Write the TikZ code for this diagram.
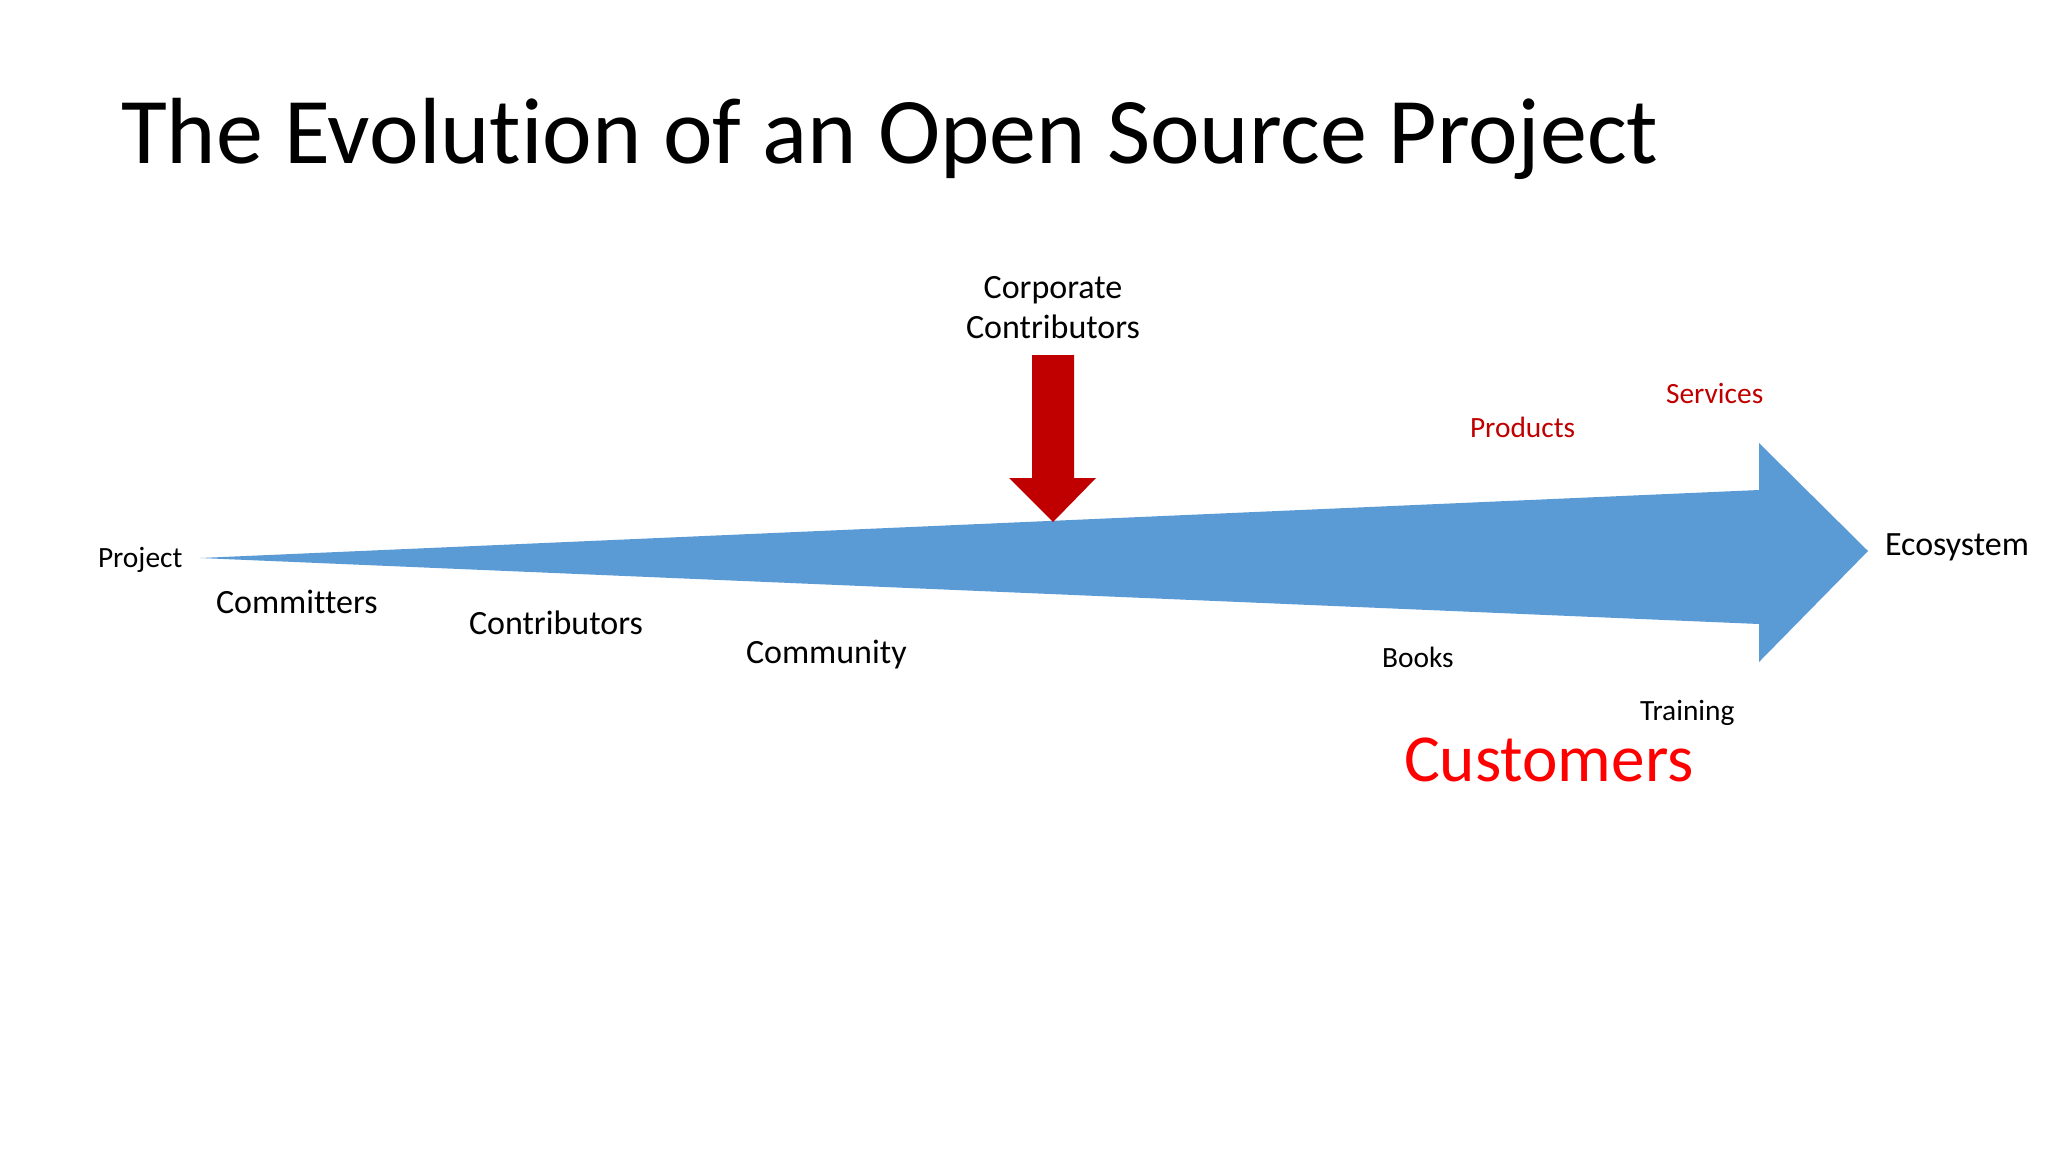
\documentclass[tikz,border=0pt]{standalone}
\usepackage{fontspec}
\setmainfont[Ligatures=NoCommon]{Carlito}
\usepackage{xcolor}
\usetikzlibrary{positioning,calc}
\definecolor{flowblue}{HTML}{5B9BD5}
\definecolor{corpred}{HTML}{C00000}
\definecolor{custred}{HTML}{FF0000}

\begin{document}
\begin{tikzpicture}[x=0.5pt, y=-0.5pt, inner sep=0pt, outer sep=0pt,
    big/.style={anchor=base west, font=\fontsize{17pt}{20pt}\selectfont},
    small/.style={anchor=base west, font=\fontsize{14.7pt}{17pt}\selectfont}]
    \useasboundingbox (0,0) rectangle (2048,1152);
    \fill[white] (0,0) rectangle (2048,1152);

    \node [anchor=base west, font=\fontsize{47pt}{56pt}\selectfont] (title) at (121,163) {The Evolution of an Open Source Project};

    % the growing arrow
    \coordinate (start) at (200,558);
    \coordinate (tip) at (1868,551);
    \fill[flowblue] (start) -- (1759,490) -- (1759,443) -- (tip) -- (1759,662) -- (1759,624) -- cycle;

    % corporate push
    \node [anchor=base, align=center, font=\fontsize{17pt}{20pt}\selectfont] (corp) at (1053,338) {Corporate\\Contributors};
    \coordinate (hit) at (1053,522);
    \fill[corpred] (1032,355) -- (1074,355) -- (1074,478) -- (1096,478) -- (hit) -- (1009,478) -- (1032,478) -- cycle;

    \node [small] (proj) at (98,567) {Project};
    \node [big] (commit) at (216,613) {Committers};
    \node [big] (contrib) at (469,634) {Contributors};
    \node [big] (comm) at (746,663) {Community};
    \node [big] (eco) at (1885,555) {Ecosystem};

    \node [small, text=corpred] (prod) at (1470,437) {Products};
    \node [small, text=corpred] (serv) at (1666,403) {Services};
    \node [small] (books) at (1382,667) {Books};
    \node [small] (train) at (1640,720) {Training};
    \node [anchor=base west, text=custred, font=\fontsize{33.6pt}{40pt}\selectfont] (cust) at (1404,781) {Customers};

\end{tikzpicture}
\end{document}
